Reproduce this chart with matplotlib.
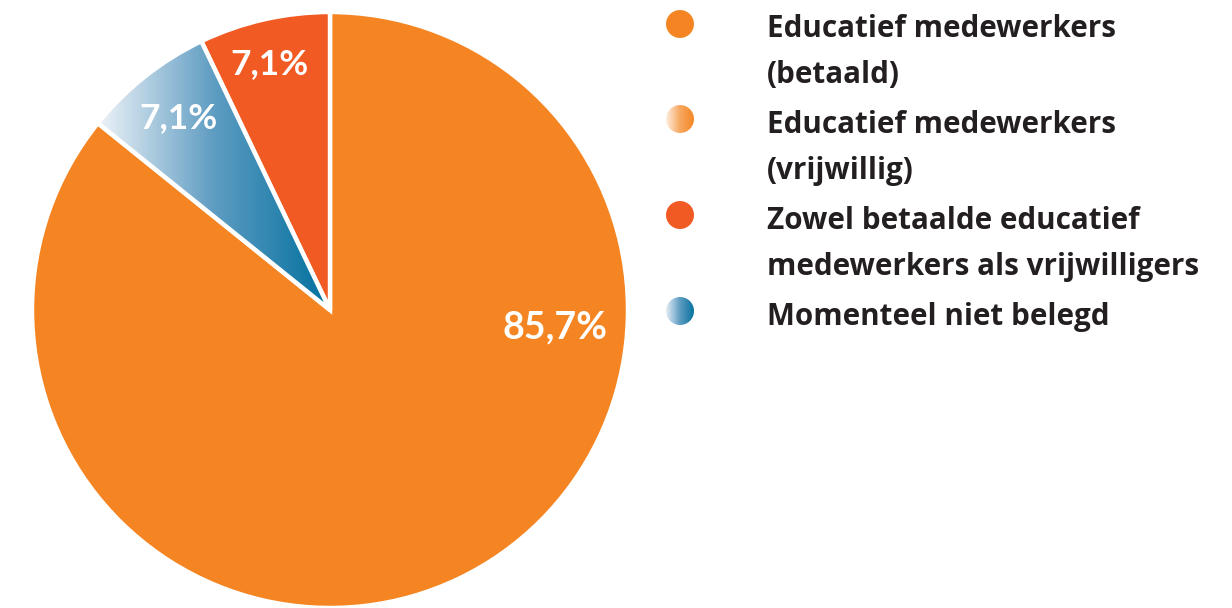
import matplotlib
matplotlib.use("Agg")
import matplotlib.pyplot as plt
import numpy as np
from matplotlib.colors import LinearSegmentedColormap
from matplotlib.patches import Circle

categories = ["Educatief medewerkers\n(betaald)",
              "Educatief medewerkers\n(vrijwillig)",
              "Zowel betaalde educatief\nmedewerkers als vrijwilligers",
              "Momenteel niet belegd"]
values = [85.7, 0.0, 7.1, 7.1]
pct_labels = ["85,7%", "", "7,1%", "7,1%"]
# drawing order clockwise from 12 o'clock
pie_order = [0, 3, 2]

ORANGE = "#F58522"
RED = "#F15A22"
BLUE_DARK = "#00709E"
BLUE_LIGHT = "#EEF3F8"
ORANGE_LIGHT = "#FEF3E8"
TEXT = "#231F20"

cmap_blue = LinearSegmentedColormap.from_list("b", [BLUE_LIGHT, "#5E9CC2", BLUE_DARK])
cmap_orange = LinearSegmentedColormap.from_list("o", [ORANGE_LIGHT, "#F7A860", ORANGE])
solid = {0: ORANGE, 2: RED}
grad = {1: cmap_orange, 3: cmap_blue}

W, H = 1232, 608
fig = plt.figure(figsize=(W / 100, H / 100), dpi=100)

# pie axes
cx, cy, R = 330, 310, 298
ax = fig.add_axes([(cx - R) / W, (H - cy - R) / H, 2 * R / W, 2 * R / H])
vals = [values[i] for i in pie_order]
cols = [solid.get(i, "#ffffff") for i in pie_order]
wedges, texts, autotexts = ax.pie(
    vals, colors=cols, startangle=90, counterclock=False, radius=1,
    wedgeprops=dict(edgecolor="white", linewidth=3.2),
    autopct="%1.1f%%", pctdistance=0.82,
    textprops=dict(color="white", fontsize=25.5, fontweight="bold", family="Lato"))
ax.set_xlim(-1, 1)
ax.set_ylim(-1, 1)
ax.set_aspect("equal")
ax.axis("off")

for w, i, t in zip(wedges, pie_order, autotexts):
    t.set_text(pct_labels[i])
    if i in grad:
        bb = w.get_path().get_extents(w.get_patch_transform())
        g = np.linspace(0, 1, 256).reshape(1, -1)
        im = ax.imshow(g, cmap=grad[i], extent=[bb.x0, bb.x1, bb.y0, bb.y1],
                       aspect="auto", zorder=w.get_zorder() + 0.1, origin="lower")
        im.set_clip_path(w)
        w.set_facecolor("none")
        w.set_zorder(w.get_zorder() + 0.2)
    t.set_zorder(10)
    if i == 0:
        t.set_position((0.755, -0.057))
        t.set_fontsize(27)
    elif i == 2:
        x, y = t.get_position()
        t.set_position((x - 0.02, y + 0.025))
ax.set_xlim(-1, 1)
ax.set_ylim(-1, 1)

# legend axes in pixel coordinates
lax = fig.add_axes([0, 0, 1, 1])
lax.set_xlim(0, W)
lax.set_ylim(H, 0)
lax.axis("off")
marker_y = [24, 119, 215, 311]
base_y = [37, 133, 229, 325]
line_gap = 46
for i, (lab, my, by) in enumerate(zip(categories, marker_y, base_y)):
    c = Circle((680, my), 14, facecolor=solid.get(i, "none"), edgecolor="none")
    lax.add_patch(c)
    if i in grad:
        g = np.linspace(0, 1, 128).reshape(1, -1)
        im = lax.imshow(g, cmap=grad[i], extent=[665, 695, my + 15, my - 15],
                        aspect="auto", zorder=3)
        im.set_clip_path(c)
    for k, line in enumerate(lab.split("\n")):
        lax.text(767, by + k * line_gap, line, ha="left", va="baseline",
                 fontsize=21.3, color=TEXT, family="Open Sans", fontweight="bold")
lax.set_xlim(0, W)
lax.set_ylim(H, 0)

fig.savefig("out.png", dpi=100)
